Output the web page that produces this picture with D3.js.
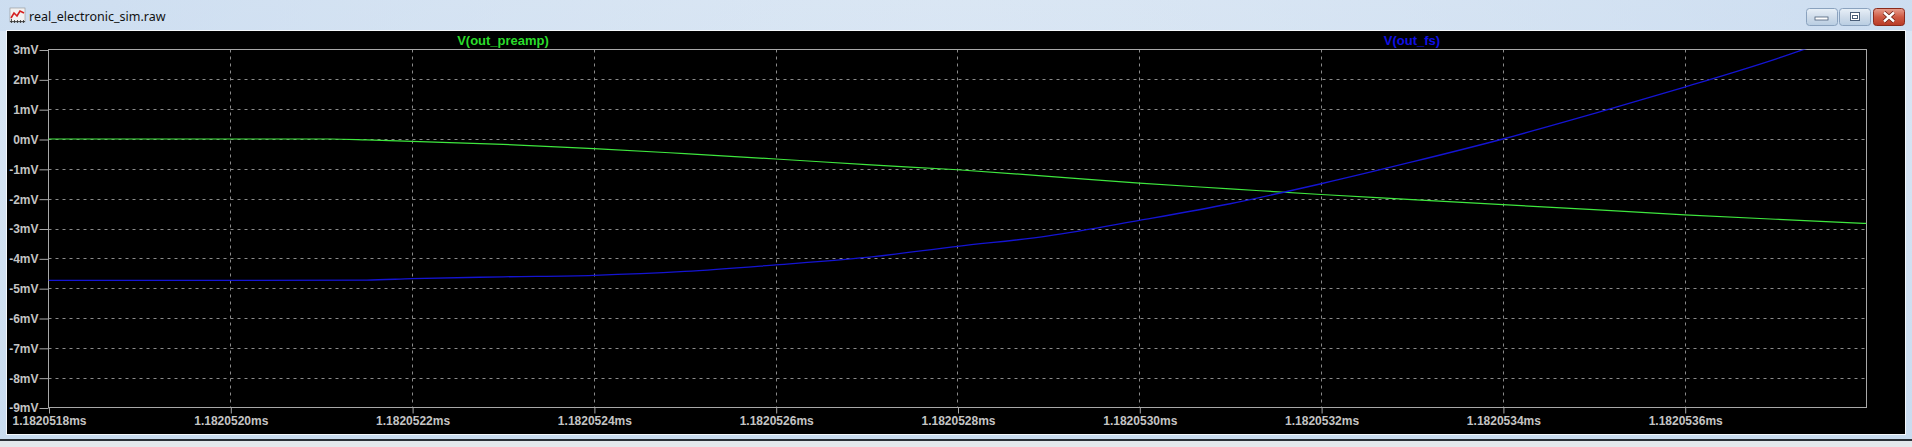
<!DOCTYPE html>
<html>
<head>
<meta charset="utf-8">
<script src="https://cdn.jsdelivr.net/npm/d3@7/dist/d3.min.js"></script>
<style>
  html, body { margin: 0; padding: 0; background: #d4e3f3; overflow: hidden; }
  svg { display: block; }
</style>
</head>
<body>
<svg id="chart" width="1912" height="447"></svg>
<script>
// ---------- data ----------
const windowTitle = "real_electronic_sim.raw";
const xTickValues = [1.1820518, 1.1820520, 1.1820522, 1.1820524, 1.1820526, 1.1820528, 1.1820530, 1.1820532, 1.1820534, 1.1820536];
const xTickLabels = ["1.1820518ms", "1.1820520ms", "1.1820522ms", "1.1820524ms", "1.1820526ms", "1.1820528ms", "1.1820530ms", "1.1820532ms", "1.1820534ms", "1.1820536ms"];
const yTickValues = [3, 2, 1, 0, -1, -2, -3, -4, -5, -6, -7, -8, -9];
const yTickLabels = ["3mV", "2mV", "1mV", "0mV", "-1mV", "-2mV", "-3mV", "-4mV", "-5mV", "-6mV", "-7mV", "-8mV", "-9mV"];
const seriesNames = ["V(out_preamp)", "V(out_fs)"];

// V(out_preamp) [time ms, mV]
const preampTime = [1.1820518, 1.1820520, 1.1820521, 1.18205211, 1.18205215, 1.1820522, 1.1820523, 1.1820524, 1.1820525, 1.1820526, 1.1820527, 1.1820528, 1.1820529, 1.1820530, 1.1820531, 1.1820532, 1.1820533, 1.1820534, 1.1820535, 1.1820536, 1.1820537, 1.1820538];
const preampMv   = [0.00, 0.00, 0.00, 0.00, -0.03, -0.08, -0.18, -0.32, -0.49, -0.67, -0.86, -1.03, -1.25, -1.48, -1.67, -1.86, -2.03, -2.20, -2.37, -2.54, -2.69, -2.83];

// V(out_fs) [time ms, mV]
const fsTime = [1.1820518, 1.1820520, 1.18205215, 1.1820522, 1.1820523, 1.1820524, 1.1820525, 1.1820526, 1.1820527, 1.1820528, 1.1820529, 1.1820530, 1.1820531, 1.1820532, 1.1820533, 1.1820534, 1.1820535, 1.1820536, 1.1820537, 1.1820538];
const fsMv   = [-4.74, -4.74, -4.73, -4.68, -4.62, -4.57, -4.44, -4.22, -3.97, -3.60, -3.25, -2.73, -2.17, -1.50, -0.77, 0.00, 0.85, 1.74, 2.68, 3.75];

// ---------- layout ----------
const W = 1912, H = 447;
const plot = { left: 48.5, right: 1866.5, top: 49.5, bottom: 407.5 };
const colors = { bg: "#000000", axis: "#a8a8a8", grid: "#8a8a8a", text: "#c4c4c4", preamp: "#3ee63e", fs: "#1414d2", preampLabel: "#2bdc2b", fsLabel: "#1010e6" };

const svg = d3.select("#chart");
const defs = svg.append("defs");

// title bar gradient
const g1 = defs.append("linearGradient").attr("id", "titleGrad").attr("x1", 0).attr("y1", 0).attr("x2", 0).attr("y2", 1);
g1.append("stop").attr("offset", "0%").attr("stop-color", "#dbe7f4");
g1.append("stop").attr("offset", "100%").attr("stop-color", "#c8dbef");
const g2 = defs.append("linearGradient").attr("id", "titleGradH").attr("x1", 0).attr("y1", 0).attr("x2", 1).attr("y2", 0);
g2.append("stop").attr("offset", "0%").attr("stop-color", "#c3d7ee").attr("stop-opacity", 0.6);
g2.append("stop").attr("offset", "50%").attr("stop-color", "#d6e4f3").attr("stop-opacity", 0.2);
g2.append("stop").attr("offset", "100%").attr("stop-color", "#c3d7ee").attr("stop-opacity", 0.6);
const btnGrad = defs.append("linearGradient").attr("id", "btnGrad").attr("x1", 0).attr("y1", 0).attr("x2", 0).attr("y2", 1);
btnGrad.append("stop").attr("offset", "0%").attr("stop-color", "#e8f0f8");
btnGrad.append("stop").attr("offset", "50%").attr("stop-color", "#cfdcea");
btnGrad.append("stop").attr("offset", "100%").attr("stop-color", "#b8cde2");
const closeGrad = defs.append("linearGradient").attr("id", "closeGrad").attr("x1", 0).attr("y1", 0).attr("x2", 0).attr("y2", 1);
closeGrad.append("stop").attr("offset", "0%").attr("stop-color", "#e8a090");
closeGrad.append("stop").attr("offset", "50%").attr("stop-color", "#cf5a44");
closeGrad.append("stop").attr("offset", "100%").attr("stop-color", "#b83a26");

// window chrome
svg.append("rect").attr("x", 0).attr("y", 0).attr("width", W).attr("height", H).attr("fill", "url(#titleGrad)");
svg.append("rect").attr("x", 0).attr("y", 0).attr("width", W).attr("height", 31).attr("fill", "url(#titleGradH)");
svg.append("rect").attr("x", 6).attr("y", 30).attr("width", 1900).attr("height", 405).attr("fill", "#f4f7fb");
svg.append("rect").attr("x", 7).attr("y", 31).attr("width", 1898).attr("height", 403).attr("fill", colors.bg);
svg.append("rect").attr("x", 0).attr("y", 439).attr("width", W).attr("height", 2).attr("fill", "#2a2f36");
svg.append("rect").attr("x", 0).attr("y", 441).attr("width", W).attr("height", 6).attr("fill", "#e4e8ec");

// title icon
const icon = svg.append("g").attr("transform", "translate(10,8)");
icon.append("rect").attr("x", 0).attr("y", 0).attr("width", 15).attr("height", 14).attr("fill", "#f2f2f2").attr("stroke", "#909090").attr("stroke-width", 0.6);
icon.append("path").attr("d", "M1,10 L4,5 L7,8 L10,3 L14,5").attr("fill", "none").attr("stroke", "#d42020").attr("stroke-width", 1.6);
icon.append("path").attr("d", "M0,13.5 H15 M1.5,11 V15 M4.5,12 V15 M7.5,12 V15 M10.5,12 V15 M13.5,12 V15").attr("stroke", "#303030").attr("stroke-width", 0.8);

svg.append("text").attr("x", 29).attr("y", 21).text(windowTitle)
  .attr("font-family", "'Noto Sans', 'DejaVu Sans', sans-serif").attr("font-size", "12.5px").attr("fill", "#111");

// window buttons
function button(x, w, fill) {
  const b = svg.append("g");
  b.append("rect").attr("x", x + 0.5).attr("y", 8.5).attr("width", w).attr("height", 17).attr("rx", 3)
    .attr("fill", fill).attr("stroke", fill === "url(#closeGrad)" ? "#8a2a1c" : "#8aa2be").attr("stroke-width", 1);
  return b;
}
button(1806, 31, "url(#btnGrad)").append("rect").attr("x", 1815).attr("y", 17).attr("width", 13).attr("height", 3).attr("fill", "#fff").attr("stroke", "#4a5e78").attr("stroke-width", 0.8);
const mx = button(1839, 31, "url(#btnGrad)");
mx.append("rect").attr("x", 1850.5).attr("y", 12.5).attr("width", 9).attr("height", 8).attr("fill", "#fff").attr("stroke", "#4a5e78").attr("stroke-width", 1);
mx.append("rect").attr("x", 1852.5).attr("y", 15.5).attr("width", 5).attr("height", 3).attr("fill", "none").attr("stroke", "#4a5e78").attr("stroke-width", 1);
const cl = button(1873, 31, "url(#closeGrad)");
cl.append("path").attr("d", "M1884,12.5 L1894,21.5 M1894,12.5 L1884,21.5").attr("stroke", "#6a1e12").attr("stroke-width", 4);
cl.append("path").attr("d", "M1884,12.5 L1894,21.5 M1894,12.5 L1884,21.5").attr("stroke", "#ffffff").attr("stroke-width", 2.4);

// ---------- scales ----------
const x = d3.scaleLinear().domain([1.1820518, 1.1820538]).range([plot.left, plot.right]);
const y = d3.scaleLinear().domain([-9, 3]).range([plot.bottom, plot.top]);

const fontFam = "'Liberation Sans', Arial, sans-serif";

// grid
const grid = svg.append("g");
grid.selectAll("line.v").data(xTickValues.slice(1)).join("line")
  .attr("x1", d => Math.round(x(d)) + 0.5).attr("x2", d => Math.round(x(d)) + 0.5)
  .attr("y1", plot.top).attr("y2", plot.bottom)
  .attr("stroke", colors.grid).attr("stroke-dasharray", "3,4");
grid.selectAll("line.h").data(yTickValues.slice(1, -1)).join("line")
  .attr("y1", d => Math.round(y(d)) + 0.5).attr("y2", d => Math.round(y(d)) + 0.5)
  .attr("x1", plot.left).attr("x2", plot.right)
  .attr("stroke", colors.grid).attr("stroke-dasharray", "3,4");

// axes
const xAxis = d3.axisBottom(x).tickValues(xTickValues).tickFormat((d, i) => xTickLabels[i]).tickSize(6).tickPadding(3);
const gx = svg.append("g").attr("transform", `translate(0.5,${plot.bottom})`).call(xAxis);
gx.select(".domain").remove();
gx.selectAll("line").attr("stroke", colors.axis);
gx.selectAll("text").attr("fill", colors.text).attr("font-family", fontFam).attr("font-size", "12px").attr("font-weight", "bold");

const yAxis = d3.axisLeft(y).tickValues(yTickValues).tickFormat((d, i) => yTickLabels[i]).tickSize(9).tickPadding(1);
const gy = svg.append("g").attr("transform", `translate(${plot.left},0.5)`).call(yAxis);
gy.select(".domain").remove();
gy.selectAll("line").attr("stroke", colors.axis);
gy.selectAll("text").attr("fill", colors.text).attr("font-family", fontFam).attr("font-size", "12px").attr("font-weight", "bold");

// plot border
svg.append("rect").attr("x", plot.left).attr("y", plot.top).attr("width", plot.right - plot.left).attr("height", plot.bottom - plot.top)
  .attr("fill", "none").attr("stroke", colors.axis).attr("stroke-width", 1);

// clip
defs.append("clipPath").attr("id", "plotClip").append("rect")
  .attr("x", plot.left).attr("y", plot.top).attr("width", plot.right - plot.left).attr("height", plot.bottom - plot.top);

const line = d3.line().x(d => x(d[0])).y(d => y(d[1])).curve(d3.curveMonotoneX);
const traces = svg.append("g").attr("clip-path", "url(#plotClip)");
traces.append("path").datum(preampTime.map((t, i) => [t, preampMv[i]]))
  .attr("d", line).attr("fill", "none").attr("stroke", colors.preamp).attr("stroke-width", 1.2);
traces.append("path").datum(fsTime.map((t, i) => [t, fsMv[i]]))
  .attr("d", line).attr("fill", "none").attr("stroke", colors.fs).attr("stroke-width", 1.3);

// trace labels
const labelColors = [colors.preampLabel, colors.fsLabel];
svg.selectAll("text.trace").data(seriesNames).join("text")
  .attr("class", "trace")
  .attr("x", (d, i) => plot.left + (plot.right - plot.left) * (2 * i + 1) / 4)
  .attr("y", 44.5)
  .attr("text-anchor", "middle")
  .attr("font-family", fontFam).attr("font-size", "13px").attr("font-weight", "bold")
  .attr("fill", (d, i) => labelColors[i])
  .text(d => d);
</script>
</body>
</html>
